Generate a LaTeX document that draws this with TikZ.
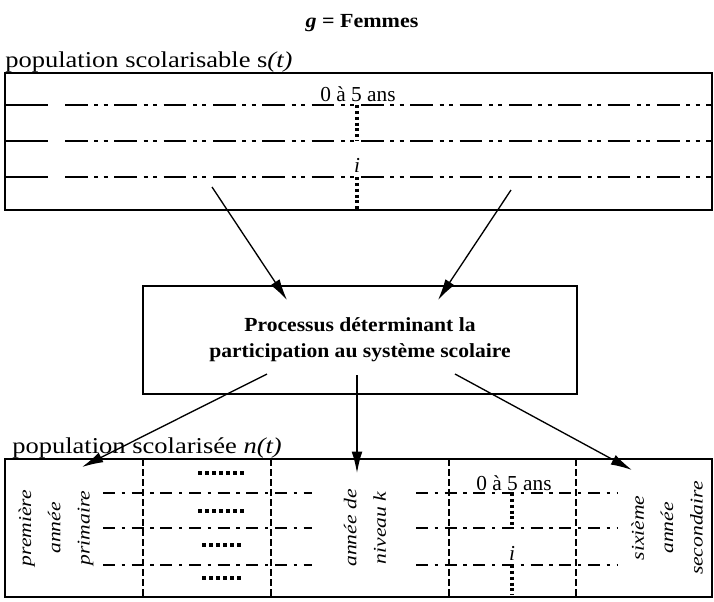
\documentclass[tikz,border=0pt]{standalone}
\usepackage{fontspec}
\setmainfont{Liberation Serif}
\usetikzlibrary{arrows.meta}

\newcommand{\wide}[2][1.2]{\scalebox{#1}[1]{#2}}

\tikzset{
  frame/.style={draw,line width=1.6pt},
  agerow/.style={line width=1.4pt,dash pattern=on 17pt off 5pt on 3pt off 4pt on 3pt off 5pt},
  gradrow/.style={line width=1.4pt,dash pattern=on 9pt off 5pt on 2.5pt off 5pt},
  colsep/.style={line width=1.2pt,dash pattern=on 5pt off 2.5pt},
  dotcol/.style={line width=2.4pt,dash pattern=on 2.2pt off 2.2pt},
  dotrow/.style={line width=3pt,dash pattern=on 3pt off 2.25pt},
  flow/.style={line width=1pt,-{Latex[length=16pt,width=8pt]}},
  poplabel/.style={anchor=base west,inner sep=0pt,font=\fontsize{17}{20}\selectfont},
  agelabel/.style={anchor=base,inner sep=0pt,font=\fontsize{16}{19}\selectfont},
  yearlabel/.style={rotate=90,align=center,inner sep=0pt,font=\itshape\fontsize{13.5}{22}\selectfont}
}

\begin{document}
\begin{tikzpicture}[x=0.75pt,y=-0.75pt]
    \useasboundingbox (0,0) rectangle (714,601);
    %% title
    \node[anchor=base,font=\bfseries\fontsize{15}{18}\selectfont] (title) at (362,27) {\wide[1.1]{\textit{g} = Femmes}};
    %% population scolarisable
    \node[poplabel] (slab) at (5,67) {\wide[1.17]{population scolarisable s\textit{(t)}}};
    \draw[frame] (5,73) coordinate (snw) rectangle (712,210) coordinate (sse);
    \foreach \y in {105,141,177} {
        \draw[line width=1.4pt] (5,\y) -- (48,\y);
        \draw[agerow] (65,\y) -- (712,\y);
    }
    \draw[dotcol] (357,105) -- (357,141);
    \draw[dotcol] (357,177) -- (357,209);
    \node[agelabel] (sage) at (358,101) {0 à 5 ans};
    \node[agelabel,font=\itshape\fontsize{16}{19}\selectfont] (sidx) at (357,172) {i};
    %% process
    \node[frame,minimum width=325.5pt,minimum height=81pt,align=center,
          font=\bfseries\fontsize{15}{19.5}\selectfont] (proc) at (360,340)
          {\wide[1.08]{Processus déterminant la}\\\wide[1.08]{participation au système scolaire}};
    \coordinate (sl) at (212,187);
    \coordinate (sr) at (511,190);
    \coordinate (pl) at (287,300);
    \coordinate (pr) at (438,300);
    \draw[flow] (sl) -- (pl);
    \draw[flow] (sr) -- (pr);
    %% population scolarisee
    \node[poplabel] (nlab) at (12,453) {\wide[1.17]{population scolarisée \textit{n(t)}}};
    \draw[frame] (5,459) coordinate (nnw) rectangle (712,597) coordinate (nse);
    \foreach \x in {143,271,449,576}
        \draw[colsep] (\x,459) -- (\x,597);
    \foreach \y in {493,528,565} {
        \draw[gradrow] (103,\y) -- (312,\y);
        \draw[gradrow] (416,\y) -- (617,\y);
    }
    \draw[dotrow] (198,473) -- (244,473);
    \draw[dotrow] (198,511) -- (244,511);
    \draw[dotrow] (202,545) -- (241,545);
    \draw[dotrow] (202,578) -- (241,578);
    \draw[dotcol] (512,493) -- (512,528);
    \draw[dotcol] (512,565) -- (512,595);
    \node[agelabel] (nage) at (514,490) {0 à 5 ans};
    \node[agelabel,font=\itshape\fontsize{16}{19}\selectfont] (nidx) at (512,560) {i};
    \node[yearlabel] (first) at (56,528) {\wide{première}\\\wide{année}\\\wide{primaire}};
    \node[yearlabel] (levk) at (365,528) {\wide{année de}\\\wide{niveau \textit{k}}};
    \node[yearlabel] (sixth) at (667,528) {\wide{sixième}\\\wide{année}\\\wide{secondaire}};
    %% arrows out of the process
    \coordinate (ql) at (267,374);
    \coordinate (qm) at (357,375);
    \coordinate (qr) at (455,374);
    \coordinate (nl) at (82,467);
    \coordinate (nm) at (357,473);
    \coordinate (nr) at (632,470);
    \draw[flow] (ql) -- (nl);
    \draw[flow] (qm) -- (nm);
    \draw[flow] (qr) -- (nr);
\end{tikzpicture}
\end{document}
